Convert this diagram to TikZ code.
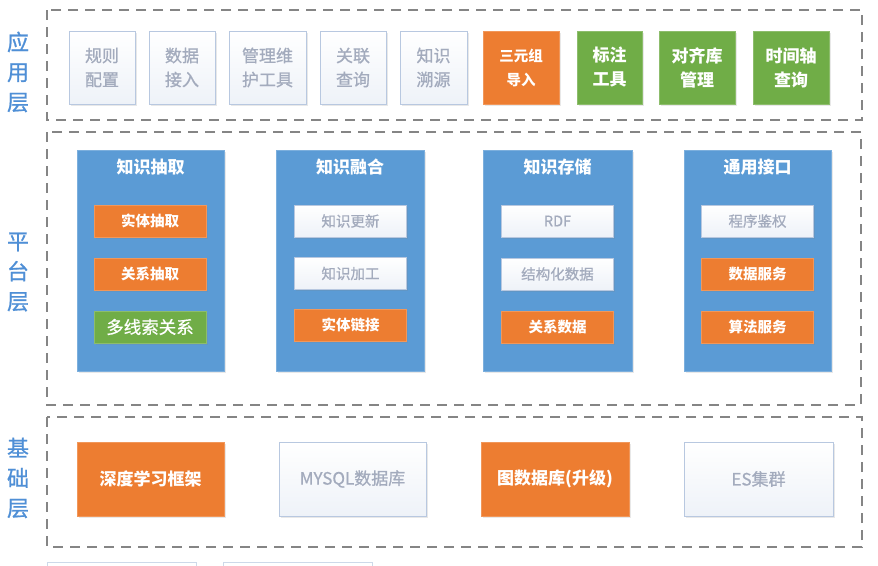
\documentclass[tikz,border=0pt]{standalone}
\usepackage{fontspec}
\setmainfont{Noto Sans CJK SC}
\newfontfamily\medfont[FakeBold=0.8]{Noto Sans CJK SC}
\usetikzlibrary{shadows}
\definecolor{orangeC}{HTML}{ED7D31}
\definecolor{greenC}{HTML}{70AD47}
\definecolor{blueC}{HTML}{5B9BD5}
\definecolor{labelC}{HTML}{4F8FD6}
\definecolor{lightBorder}{HTML}{B8C8E0}
\definecolor{lightText}{HTML}{A3ABBD}
\definecolor{lightFill}{HTML}{EEF2F8}
\definecolor{dashC}{HTML}{858585}
\tikzset{
  layerbox/.style={draw=dashC, line width=1.6pt, dash pattern=on 10pt off 7pt},
  layerlabel/.style={text=labelC, font=\medfont\fontsize{22}{30}\selectfont, align=center, inner sep=0},
  base/.style={inner sep=0, align=center, drop shadow={opacity=0.18, shadow xshift=1.5pt, shadow yshift=-1.5pt}},
  lightbox/.style={base, draw=lightBorder, line width=0.8pt, top color=white, bottom color=lightFill, text=lightText},
  orangebox/.style={base, fill=orangeC, draw=orangeC!80!white, line width=0.6pt, text=white},
  greenbox/.style={base, fill=greenC, draw=greenC!80!white, line width=0.6pt, text=white},
  colbox/.style={base, fill=blueC, draw=blueC!80!white, line width=0.6pt},
  apptext/.style={font=\medfont\fontsize{17}{24}\selectfont},
  appbold/.style={font=\bfseries\fontsize{17}{24}\selectfont},
  coltitle/.style={inner sep=0, text=white, font=\bfseries\fontsize{17}{20}\selectfont},
  inner/.style={minimum width=112pt, minimum height=32pt, font=\medfont\fontsize{14.5}{18}\selectfont},
  innerbold/.style={minimum width=112pt, minimum height=32pt, font=\bfseries\fontsize{14.5}{18}\selectfont},
  basetext/.style={minimum height=74pt, font=\medfont\fontsize{17}{22}\selectfont},
  basebold/.style={minimum height=74pt, font=\bfseries\fontsize{17}{22}\selectfont},
  fragline/.style={draw=lightBorder!70!white, line width=0.8pt}
}
\begin{document}
\begin{tikzpicture}[x=1pt, y=-1pt]
\clip (0,0) rectangle (878,565);
\useasboundingbox (0,0) rectangle (878,565);
\fill[white] (0,0) rectangle (878,565);

% layer frames
\draw[layerbox] (47,10) rectangle (862,120);
\draw[layerbox] (47,132) rectangle (861,405);
\draw[layerbox] (47,417) rectangle (862,547);

% layer labels
\node[layerlabel] (lapp) at (18,72) {应\\用\\层};
\node[layerlabel] (lplat) at (18,272) {平\\台\\层};
\node[layerlabel] (lbase) at (18,478) {基\\础\\层};

% application layer
\node[lightbox, apptext, minimum width=66pt, minimum height=73pt] (a1) at (102,67.5) {规则\\配置};
\node[lightbox, apptext, minimum width=66pt, minimum height=73pt] (a2) at (182,67.5) {数据\\接入};
\node[lightbox, apptext, minimum width=77pt, minimum height=73pt] (a3) at (267.5,67.5) {管理维\\护工具};
\node[lightbox, apptext, minimum width=66pt, minimum height=73pt] (a4) at (353,67.5) {关联\\查询};
\node[lightbox, apptext, minimum width=67pt, minimum height=73pt] (a5) at (433.5,67.5) {知识\\溯源};
\node[orangebox, font=\bfseries\fontsize{14.5}{24}\selectfont, minimum width=76pt, minimum height=73pt] (a6) at (521,67.5) {三元组\\导入};
\node[greenbox, appbold, minimum width=65pt, minimum height=73pt] (a7) at (609.5,67.5) {标注\\工具};
\node[greenbox, appbold, minimum width=76pt, minimum height=73pt] (a8) at (697,67.5) {对齐库\\管理};
\node[greenbox, appbold, minimum width=76pt, minimum height=73pt] (a9) at (791,67.5) {时间轴\\查询};

% platform layer columns
\node[colbox, minimum width=147pt, minimum height=221pt] (c1) at (150.5,260.5) {};
\node[colbox, minimum width=148pt, minimum height=221pt] (c2) at (350,260.5) {};
\node[colbox, minimum width=149pt, minimum height=221pt] (c3) at (557.5,260.5) {};
\node[colbox, minimum width=147pt, minimum height=221pt] (c4) at (757.5,260.5) {};

\node[coltitle] (t1) at (150.5,167) {知识抽取};
\node[coltitle] (t2) at (350,167) {知识融合};
\node[coltitle] (t3) at (557.5,167) {知识存储};
\node[coltitle] (t4) at (757.5,167) {通用接口};

\node[orangebox, innerbold] (p11) at (150,221) {实体抽取};
\node[orangebox, innerbold] (p12) at (150,274) {关系抽取};
\node[greenbox, inner, font=\medfont\fontsize{17.5}{20}\selectfont] (p13) at (150,327) {多线索关系};

\node[lightbox, inner] (p21) at (350.5,221) {知识更新};
\node[lightbox, inner] (p22) at (350.5,273.5) {知识加工};
\node[orangebox, innerbold] (p23) at (350.5,325) {实体链接};

\node[lightbox, inner] (p31) at (557.5,221) {RDF};
\node[lightbox, inner] (p32) at (557.5,274) {结构化数据};
\node[orangebox, innerbold] (p33) at (557.5,327) {关系数据};

\node[lightbox, inner] (p41) at (757.5,221) {程序鉴权};
\node[orangebox, innerbold] (p42) at (757.5,274) {数据服务};
\node[orangebox, innerbold] (p43) at (757.5,327) {算法服务};

% base layer
\node[orangebox, basebold, minimum width=147pt] (b1) at (150.5,479) {深度学习框架};
\node[lightbox, basetext, minimum width=147pt] (b2) at (352.5,479) {MYSQL数据库};
\node[orangebox, basebold, minimum width=148pt] (b3) at (555,479) {图数据库(升级)};
\node[lightbox, basetext, minimum width=149pt] (b4) at (758.5,479) {ES集群};

% cut-off boxes at bottom edge
\draw[fragline] (47,575) -- (47,562) -- (196,562) -- (196,575);
\draw[fragline] (223,575) -- (223,562) -- (372,562) -- (372,575);
\end{tikzpicture}
\end{document}
